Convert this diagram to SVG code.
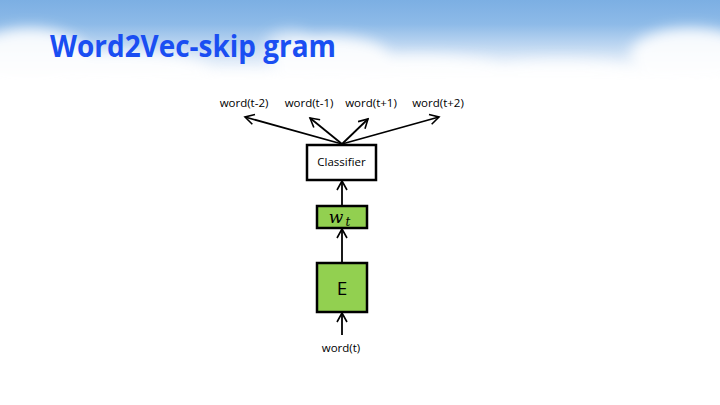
<svg xmlns="http://www.w3.org/2000/svg" width="720" height="405" viewBox="0 0 720 405">
<defs>
<linearGradient id="sky" x1="0" y1="0" x2="0" y2="1">
<stop offset="0" stop-color="#7cafe3"/>
<stop offset="0.3" stop-color="#8dbae8"/>
<stop offset="0.7" stop-color="#d6e5f6"/>
<stop offset="1" stop-color="#ffffff"/>
</linearGradient>
<filter id="blur" x="-20%" y="-50%" width="140%" height="200%"><feGaussianBlur stdDeviation="7"/></filter>
<marker id="ah" viewBox="0 0 12 12" refX="10" refY="6" markerWidth="12" markerHeight="12" markerUnits="userSpaceOnUse" orient="auto">
<path d="M1,1 L10,6 L1,11" fill="none" stroke="#000" stroke-width="1.6"/>
</marker>
<style>
.box{stroke:#000;stroke-width:2.5}
.g{fill:#92d050}
.w{fill:#fff}
.lbl{font-family:"Open Sans","Liberation Sans",sans-serif;font-size:11.5px;fill:#000;text-anchor:middle}
.edge{stroke:#000;stroke-width:1.8;fill:none;marker-end:url(#ah)}
</style>
</defs>
<rect width="720" height="405" fill="#fff"/>
<rect width="720" height="80" fill="url(#sky)"/>
<g filter="url(#blur)" fill="#fff" opacity="0.9">
<ellipse cx="30" cy="60" rx="60" ry="32"/>
<ellipse cx="120" cy="70" rx="90" ry="18"/>
<ellipse cx="290" cy="45" rx="25" ry="15" opacity="0.6"/>
<ellipse cx="330" cy="58" rx="60" ry="22"/>
<ellipse cx="420" cy="70" rx="90" ry="15"/>
<ellipse cx="560" cy="72" rx="80" ry="12"/>
<ellipse cx="690" cy="55" rx="60" ry="27"/>
<ellipse cx="200" cy="78" rx="200" ry="8"/>
<ellipse cx="520" cy="80" rx="220" ry="8"/>
</g>
<g id="title">
<text x="50" y="57" font-family="'Open Sans','Liberation Sans',sans-serif" font-weight="bold" font-size="31" fill="#1a4ef2" textLength="286" lengthAdjust="spacingAndGlyphs">Word2Vec-skip gram</text>
</g>
<g id="connectors">
<line class="edge" x1="342" y1="144" x2="245" y2="117"/>
<line class="edge" x1="342" y1="144" x2="310" y2="118"/>
<line class="edge" x1="342" y1="144" x2="368" y2="119"/>
<line class="edge" x1="342" y1="144" x2="439" y2="117"/>
<line class="edge" x1="342" y1="206" x2="342" y2="181"/>
<line class="edge" x1="342" y1="263" x2="342" y2="229"/>
<line class="edge" x1="342" y1="335" x2="342" y2="313"/>
</g>
<g id="word-t-2"><text class="lbl" x="244" y="107">word(t-2)</text></g>
<g id="word-t-1"><text class="lbl" x="309" y="107">word(t-1)</text></g>
<g id="word-t+1"><text class="lbl" x="371" y="107">word(t+1)</text></g>
<g id="word-t+2"><text class="lbl" x="438" y="107">word(t+2)</text></g>
<g id="classifier">
<rect class="box w" x="307" y="145" width="69" height="35"/>
<text class="lbl" x="341.5" y="166">Classifier</text>
</g>
<g id="wt">
<rect class="box g" x="317" y="206" width="50" height="22"/>
<text x="336" y="223" font-family="'DejaVu Serif','Liberation Serif',serif" font-style="italic" font-size="17" fill="#000" text-anchor="middle">w</text>
<text x="348" y="226" font-family="'DejaVu Serif','Liberation Serif',serif" font-style="italic" font-size="12" fill="#000" text-anchor="middle">t</text>
</g>
<g id="E">
<rect class="box g" x="317" y="263" width="50" height="49"/>
<text x="342" y="295" font-family="'Open Sans','Liberation Sans',sans-serif" font-size="19" fill="#000" text-anchor="middle">E</text>
</g>
<g id="word-t"><text class="lbl" x="341" y="352">word(t)</text></g>
</svg>
